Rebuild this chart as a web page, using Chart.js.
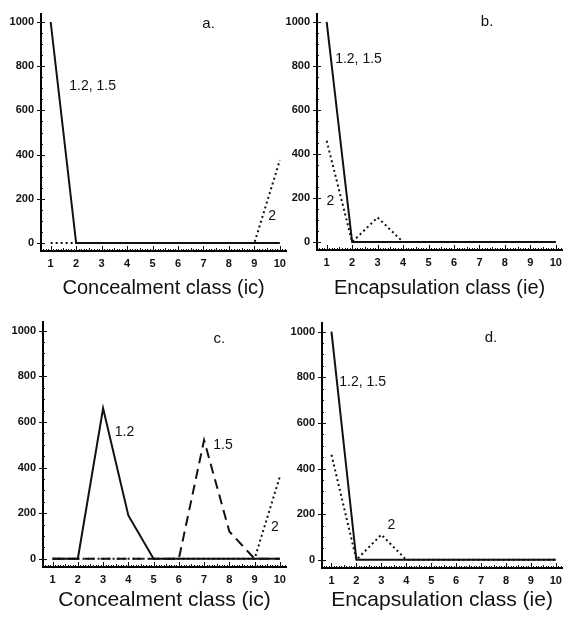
<!DOCTYPE html>
<html>
<head>
<meta charset="utf-8">
<script src="https://cdn.jsdelivr.net/npm/chart.js@4"></script>
<style>
  body { margin: 0; background: #fff; }
  .panel { position: absolute; }
</style>
</head>
<body>
<div class="panel" style="left:0;top:0"><canvas id="chartA" width="292" height="300"></canvas></div>
<div class="panel" style="left:284px;top:0"><canvas id="chartB" width="284" height="300"></canvas></div>
<div class="panel" style="left:0;top:300px"><canvas id="chartC" width="292" height="317"></canvas></div>
<div class="panel" style="left:284px;top:300px"><canvas id="chartD" width="284" height="317"></canvas></div>
<script>
// classes on the x axis, values on the y axis
const classes = [1, 2, 3, 4, 5, 6, 7, 8, 9, 10];
const yTicks = [0, 200, 400, 600, 800, 1000];

// a. concealment class
const a12 = [1000, 0, 0, 0, 0, 0, 0, 0, 0, 0];   // 1.2, 1.5
const a2  = [0, 0, 0, 0, 0, 0, 0, 0, 0, 375];
// b. encapsulation class
const b12 = [1000, 0, 0, 0, 0, 0, 0, 0, 0, 0];
const b2  = [460, 0, 112, 0, 0, 0, 0, 0, 0, 0];
// c. concealment class
const c12 = [0, 0, 660, 190, 0, 0, 0, 0, 0, 0];
const c15 = [0, 0, 0, 0, 0, 0, 520, 120, 0, 0];
const c2  = [0, 0, 0, 0, 0, 0, 0, 0, 0, 360];
// d. encapsulation class
const d12 = [1000, 0, 0, 0, 0, 0, 0, 0, 0, 0];
const d2  = [460, 0, 110, 0, 0, 0, 0, 0, 0, 0];

// in-plot labels: [text, x value, y value, size]
const notesA = [["a.", 7.2, 990, 15], ["1.2, 1.5", 2.65, 710, 14], ["2", 9.7, 120, 14]];
const notesB = [["b.", 7.3, 1000, 15], ["1.2, 1.5", 2.25, 830, 14], ["2", 1.15, 188, 14]];
const notesC = [["c.", 7.6, 965, 15], ["1.2", 3.85, 553, 14], ["1.5", 7.75, 500, 14], ["2", 9.8, 140, 14]];
const notesD = [["d.", 7.4, 973, 15], ["1.2, 1.5", 2.25, 780, 14], ["2", 3.4, 150, 14]];

const ink = '#111';
const family = '"Liberation Sans", Arial, Helvetica, sans-serif';
const SOLID = [], DOTTED = [2, 3], DASHED = [10, 6];

function line(vals, dash) {
  return {
    data: vals.map((v, i) => ({ x: classes[i], y: v })),
    borderColor: ink,
    borderWidth: 2,
    borderDash: dash,
    borderCapStyle: 'butt',
    pointRadius: 0,
    tension: 0,
    fill: false
  };
}

const minorTicks = {
  id: 'minorTicks',
  afterDraw(chart) {
    const { ctx, chartArea: a, scales: { x, y } } = chart;
    ctx.save();
    ctx.strokeStyle = ink;
    ctx.lineWidth = 1;
    ctx.beginPath();
    for (let k = 7; k <= 102; k++) {
      const px = Math.round(x.getPixelForValue(k / 10)) + 0.5;
      const len = k % 10 === 0 ? 5 : (k % 5 === 0 ? 3 : 2);
      ctx.moveTo(px, a.bottom);
      ctx.lineTo(px, a.bottom - len);
    }
    for (let k = 0; k <= 20; k++) {
      const py = Math.round(y.getPixelForValue(k * 50)) + 0.5;
      const len = k % 4 === 0 ? 4 : 2;
      ctx.moveTo(a.left, py);
      ctx.lineTo(a.left + len, py);
      if (k % 4 === 0) {
        ctx.moveTo(a.left - 4, py);
        ctx.lineTo(a.left, py);
      }
    }
    ctx.stroke();
    ctx.restore();
  }
};

function notePlugin(notes) {
  return {
    id: 'notes',
    afterDatasetsDraw(chart) {
      const { ctx, scales: { x, y } } = chart;
      ctx.save();
      ctx.fillStyle = ink;
      ctx.textAlign = 'center';
      ctx.textBaseline = 'middle';
      notes.forEach(([t, vx, vy, size]) => {
        ctx.font = size + 'px ' + family;
        ctx.fillText(t, x.getPixelForValue(vx), y.getPixelForValue(vy));
      });
      ctx.restore();
    }
  };
}

function makeChart(id, datasets, title, notes, box) {
  new Chart(document.getElementById(id), {
    type: 'line',
    data: { datasets: datasets },
    options: {
      responsive: false,
      animation: false,
      layout: { padding: { top: box.top, left: 0, right: box.right, bottom: 0 } },
      plugins: { legend: { display: false }, tooltip: { enabled: false } },
      scales: {
        x: {
          type: 'linear',
          min: 0.62,
          max: 10.25,
          border: { color: '#000', width: 2 },
          grid: { drawOnChartArea: false, drawTicks: false },
          afterBuildTicks: s => { s.ticks = classes.map(v => ({ value: v })); },
          afterFit: s => { s.height = box.xH; },
          ticks: { color: ink, padding: 6, font: { family: family, size: 11, weight: 'bold' }, callback: v => String(v) },
          title: {
            display: true,
            text: title,
            color: ink,
            padding: { top: 0, bottom: box.titlePad },
            font: { family: family, size: box.titleSize }
          }
        },
        y: {
          min: -36,
          max: 1038,
          border: { color: '#000', width: 2 },
          grid: { drawOnChartArea: false, drawTicks: false },
          afterBuildTicks: s => { s.ticks = yTicks.map(v => ({ value: v })); },
          afterFit: s => { s.width = box.yW; },
          ticks: { color: ink, padding: 7, font: { family: family, size: 11, weight: 'bold' }, callback: v => String(v) }
        }
      }
    },
    plugins: [minorTicks, notePlugin(notes)]
  });
}

makeChart('chartA', [line(a2, DOTTED), line(a12, SOLID)], 'Concealment class (ic)', notesA,
  { top: 12, right: 2, yW: 41, xH: 49, titlePad: 0, titleSize: 20 });
makeChart('chartB', [line(b2, DOTTED), line(b12, SOLID)], 'Encapsulation class (ie)', notesB,
  { top: 12, right: 1, yW: 33, xH: 50, titlePad: 0, titleSize: 20 });
makeChart('chartC', [line(c2, DOTTED), line(c15, DASHED), line(c12, SOLID)], 'Concealment class (ic)', notesC,
  { top: 22, right: 2, yW: 43, xH: 50, titlePad: 4, titleSize: 21 });
makeChart('chartD', [line(d2, DOTTED), line(d12, SOLID)], 'Encapsulation class (ie)', notesD,
  { top: 23, right: 1, yW: 38, xH: 49, titlePad: 4, titleSize: 21 });
</script>
</body>
</html>
